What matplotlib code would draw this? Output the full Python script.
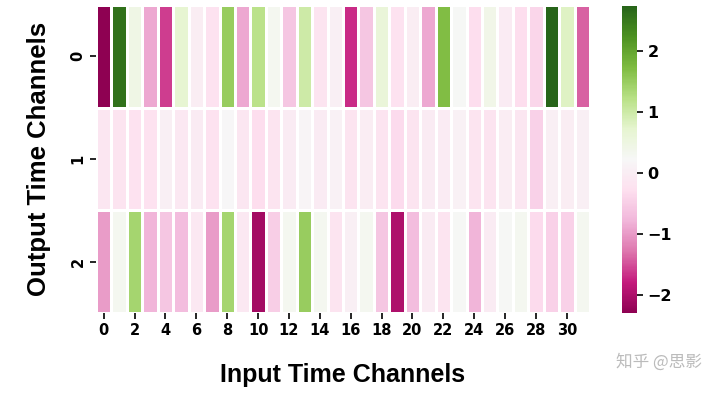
import matplotlib
matplotlib.use("Agg")
import matplotlib.pyplot as plt
import numpy as np
import seaborn as sns

# weights (3 output x 32 input channels)
row0 = [-2.3, 2.6, 0.45, -0.9, -1.6, 0.7, 0.0, -0.25, 1.5, -0.9, 1.2, 0.3, -0.6, 1.0, -0.2, 0.05,
        -1.7, -0.6, 0.6, -0.25, 0.0, -0.9, 1.7, 0.25, -0.3, 0.4, -0.05, -0.3, -0.4, 2.74, 0.8, -1.4]
row1 = [-0.15, -0.2, -0.25, -0.25, 0.05, -0.1, -0.05, -0.25, 0.2, -0.15, -0.3, -0.2, -0.05, 0.15, -0.05, 0.1,
        -0.2, 0.0, -0.2, -0.35, -0.2, -0.05, -0.05, 0.1, -0.2, -0.2, 0.0, -0.15, -0.45, 0.05, 0.0, 0.05]
row2 = [-1.0, 0.3, 1.4, -0.8, -0.6, -0.7, -0.1, -1.0, 1.4, -0.1, -2.1, -0.5, 0.3, 1.5, 0.3, -0.2,
        0.05, 0.3, -0.6, -2.0, -0.7, -0.05, -0.2, 0.25, -0.8, -0.05, 0.25, 0.3, -0.35, -0.45, -0.45, 0.3]

data = np.array([row0, row1, row2])

fig = plt.figure(figsize=(7.2, 3.94), dpi=100)
ax = fig.add_axes([96 / 720, 1 - 313 / 394, 494 / 720, 308 / 394])
cax = fig.add_axes([622 / 720, 1 - 313 / 394, 15 / 720, 307 / 394])

sns.heatmap(data, cmap="PiYG", linewidths=1, linecolor="white", ax=ax, cbar_ax=cax)

ax.set_xticks(np.arange(0, 32, 2) + 0.5)
ax.set_xticklabels([str(i) for i in range(0, 32, 2)], fontsize=10.5, fontweight="bold", rotation=0)
ax.set_yticks(np.arange(3) + 0.5)
ax.set_yticklabels(["0", "1", "2"], fontsize=10.5, fontweight="bold", rotation=90, va="center")
ax.tick_params(length=4, width=1.2)
ax.set_xlabel("Input Time Channels", fontsize=18, fontweight="bold", labelpad=18,
              family="Liberation Sans")
ax.set_ylabel("Output Time Channels", fontsize=18.5, fontweight="bold", labelpad=14,
              family="Liberation Sans")

cax.tick_params(labelsize=11.5, length=4, width=1.2)
for t in cax.get_yticklabels():
    t.set_fontweight("bold")

fig.text(0.975, 0.07, "知乎 @思影", fontsize=12, color="#bbbbbb", ha="right",
         family=["Noto Sans CJK SC", "DejaVu Sans"])

fig.savefig("out.png", dpi=100)
